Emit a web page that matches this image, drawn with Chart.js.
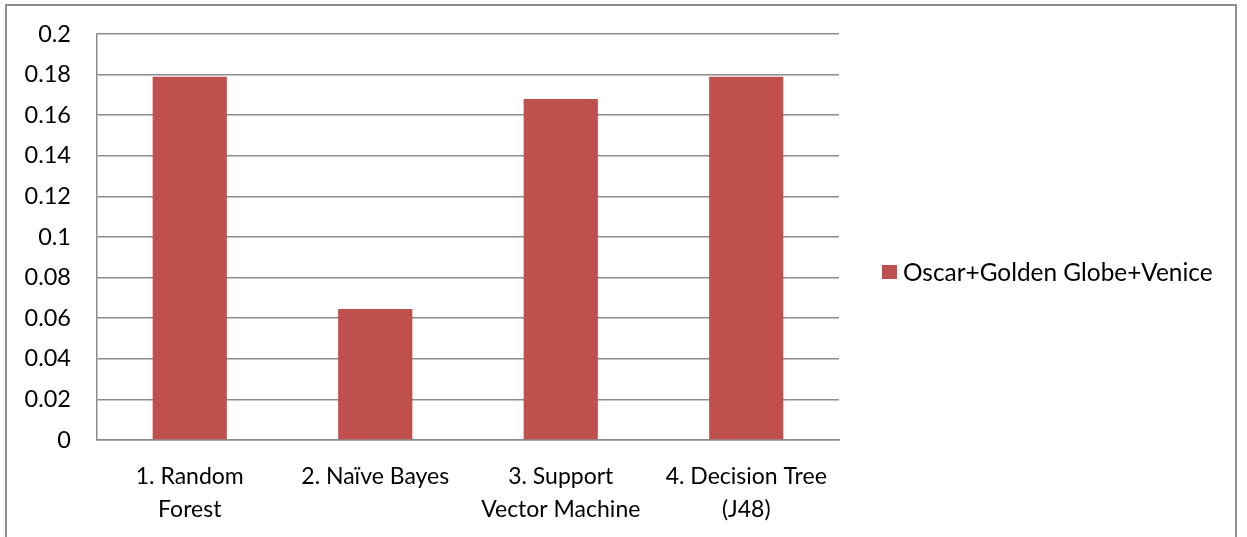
<!DOCTYPE html>
<html>
<head>
<meta charset="utf-8">
<script src="https://cdn.jsdelivr.net/npm/chart.js@4/dist/chart.umd.min.js"></script>
<style>
  html, body { margin: 0; padding: 0; background: #fff; }
  #frame {
    position: absolute; left: 5px; top: 4px; width: 1232px; height: 560px;
    border: 2px solid #8f8f8f; background: #fff; box-sizing: border-box;
  }
  #wrap { position: absolute; left: 0; top: 0; width: 1247px; height: 537px; }
</style>
</head>
<body>
<div id="frame"></div>
<div id="wrap"><canvas id="c" width="1247" height="537"></canvas></div>
<script>
// Classifier names (multi-line axis labels)
const categories = [
  ["1. Random", "Forest"],
  ["2. Naïve Bayes"],
  ["3. Support", "Vector Machine"],
  ["4. Decision Tree", "(J48)"]
];
const seriesName = "Oscar+Golden Globe+Venice";
const seriesValues = [0.179, 0.0645, 0.168, 0.179];
const yTicks = [0, 0.02, 0.04, 0.06, 0.08, 0.1, 0.12, 0.14, 0.16, 0.18, 0.2];

const FONT = "Lato, 'Open Sans', sans-serif";
const BAR_COLOR = "#C0504D";
const GRID = "#8c8c8c";

// Legend on the right, drawn from the dataset itself
const sideLegend = {
  id: 'sideLegend',
  afterDraw(chart) {
    const ctx = chart.ctx;
    const ds = chart.data.datasets[0];
    ctx.save();
    ctx.fillStyle = ds.backgroundColor;
    ctx.fillRect(882, 265, 15, 14);
    ctx.fillStyle = "#000";
    ctx.font = "24.4px " + FONT;
    ctx.textBaseline = "middle";
    ctx.textAlign = "left";
    ctx.fillText(ds.label, 903, 273);
    ctx.restore();
  }
};

new Chart(document.getElementById('c'), {
  type: 'bar',
  data: {
    labels: categories,
    datasets: [{
      label: seriesName,
      data: seriesValues,
      backgroundColor: BAR_COLOR,
      borderWidth: 0,
      barPercentage: 0.8,
      categoryPercentage: 0.5
    }]
  },
  options: {
    responsive: false,
    animation: false,
    layout: { padding: { left: 0, top: 34, right: 408, bottom: 0 } },
    plugins: {
      legend: { display: false },
      tooltip: { enabled: false }
    },
    scales: {
      x: {
        grid: { display: false, drawTicks: false },
        border: { display: true, color: GRID, width: 1.5 },
        ticks: {
          color: "#000",
          font: { family: FONT, size: 23, lineHeight: 1.43 },
          padding: 20,
          maxRotation: 0,
          autoSkip: false
        },
        afterFit(axis) {
          axis.height = 97;
          axis.paddingLeft = 0;
          axis.paddingRight = 0;
        }
      },
      y: {
        min: 0,
        max: 0.2,
        afterBuildTicks(axis) { axis.ticks = yTicks.map(v => ({ value: v })); },
        grid: { color: GRID, lineWidth: 1.5, drawTicks: false },
        border: { display: true, color: GRID, width: 1.5 },
        ticks: {
          color: "#000",
          font: { family: FONT, size: 23.5 },
          padding: 26,
          callback: v => String(v)
        },
        afterFit(axis) {
          axis.width = 97;
          axis.paddingTop = 0;
          axis.paddingBottom = 0;
        }
      }
    }
  },
  plugins: [sideLegend]
});
</script>
</body>
</html>
